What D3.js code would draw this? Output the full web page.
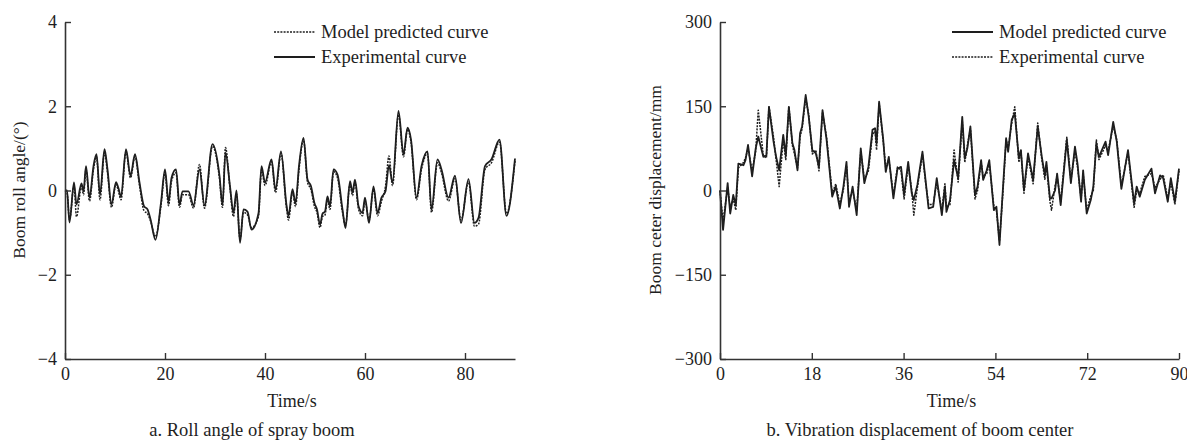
<!DOCTYPE html>
<html>
<head>
<meta charset="utf-8">
<script src="https://cdn.jsdelivr.net/npm/d3@7"></script>
<style>
  body { margin: 0; background: #fff; }
  svg { display: block; font-family: "Liberation Serif", "Times New Roman", serif; }
</style>
</head>
<body>
<svg id="chart" width="1187" height="441"></svg>
<script>
'use strict';

// a. roll angle of spray boom
const rollTime = [
  0, 0.4, 0.9, 1.8, 2.3, 3.3, 3.7, 4.2, 4.9, 5.7,
  6.3, 7.0, 7.9, 8.5, 9.3, 10.2, 10.7, 11.2, 12.2, 13.1,
  14.0, 14.9, 15.8, 16.5, 17.1, 18.1, 19.2, 20.0, 20.7, 21.3,
  22.2, 22.9, 23.5, 24.7, 25.7, 26.9, 27.9, 29.5, 30.9, 31.5,
  32.1, 33.0, 33.7, 34.3, 35.0, 35.7, 36.5, 37.3, 38.7, 39.3,
  40.0, 41.3, 42.1, 43.2, 44.3, 44.7, 45.5, 46.1, 46.8, 47.7,
  48.5, 49.2, 49.9, 50.4, 51.0, 51.5, 52.0, 52.5, 53.0, 53.7,
  54.5, 55.5, 56.1, 57.0, 57.5, 58.0, 58.7, 59.5, 60.0, 60.8,
  61.7, 62.5, 63.3, 64.1, 64.8, 65.5, 66.7, 67.7, 68.5, 69.2,
  70.3, 71.3, 72.5, 73.3, 74.5, 75.3, 76.7, 78.0, 79.2, 80.7,
  81.9, 82.7, 84.0, 85.3, 86.9, 88.3, 90.0
];
const rollExperimental = [
  0, 0, -0.76, 0.19, -0.33, 0.17, -0.02, 0.58, -0.17, 0.58,
  0.86, -0.10, 0.98, 0.50, -0.33, 0.20, 0.05, -0.15, 0.98, 0.35,
  0.86, 0.19, -0.37, -0.45, -0.68, -1.17, -0.29, 0.50, -0.27, 0.30,
  0.50, -0.34, -0.02, -0.02, -0.35, 0.50, -0.35, 1.10, 0.35, -0.34,
  0.90, 0.10, -0.53, 0.00, -1.24, -0.45, -0.50, -0.93, -0.54, 0.58,
  0.19, 0.74, 0.02, 0.93, -0.35, -0.60, 0.03, -0.30, 0.58, 1.25,
  0.26, 0.10, -0.30, -0.45, -0.81, -0.55, -0.50, -0.14, -0.37, 0.50,
  0.38, -0.45, -0.89, 0.22, -0.05, 0.26, -0.37, -0.53, -0.17, -0.77,
  0.10, -0.53, -0.17, -0.02, 0.60, 0.19, 1.89, 0.86, 1.49, 1.21,
  -0.17, 0.58, 0.93, -0.45, 0.74, 0.50, -0.17, 0.35, -0.77, 0.27,
  -0.77, -0.65, 0.58, 0.74, 1.21, -0.60, 0.76
];
const rollModel = [
  0, -0.05, -0.70, 0.10, -0.62, 0.10, -0.10, 0.50, -0.25, 0.50,
  0.80, -0.22, 0.90, 0.42, -0.40, 0.15, -0.02, -0.22, 0.92, 0.30,
  0.80, 0.12, -0.48, -0.55, -0.72, -1.10, -0.35, 0.42, -0.36, 0.22,
  0.42, -0.40, -0.10, -0.10, -0.42, 0.62, -0.42, 1.05, 0.28, -0.40,
  1.02, 0.05, -0.62, -0.08, -1.15, -0.52, -0.58, -0.88, -0.62, 0.50,
  0.12, 0.68, -0.05, 0.88, -0.42, -0.70, -0.05, -0.38, 0.50, 1.20,
  0.20, 0.02, -0.38, -0.52, -0.88, -0.62, -0.58, -0.22, -0.45, 0.45,
  0.30, -0.52, -0.82, 0.15, -0.12, 0.20, -0.44, -0.60, -0.25, -0.70,
  0.02, -0.60, -0.25, 0.10, 0.82, 0.12, 1.80, 0.80, 1.45, 1.15,
  -0.22, 0.50, 0.88, -0.52, 0.66, 0.42, -0.25, 0.28, -0.70, 0.20,
  -0.85, -0.80, 0.50, 0.66, 1.15, -0.55, 0.70
];
const rollXTicks = [0, 20, 40, 60, 80];
const rollYTicks = [-4, -2, 0, 2, 4];

// b. vibration displacement of boom center
const dispTime = [
  0, 0.6, 1.5, 2.0, 2.6, 3.1, 3.6, 4.6, 5.0, 5.5,
  6.3, 7.0, 7.5, 8.5, 9.1, 9.6, 10.5, 11.0, 11.6, 12.4,
  12.9, 13.5, 14.2, 14.6, 15.2, 15.7, 16.1, 16.8, 17.4, 18.1,
  18.8, 19.4, 20.1, 20.9, 22.0, 22.7, 23.5, 24.2, 24.8, 25.3,
  26.0, 26.8, 27.6, 28.3, 29.1, 29.9, 30.4, 30.7, 31.2, 32.0,
  32.5, 33.1, 34.0, 34.8, 35.5, 36.1, 36.9, 37.6, 38.0, 38.7,
  39.7, 40.3, 40.9, 41.8, 42.5, 43.5, 44.1, 44.4, 45.1, 45.9,
  46.7, 47.5, 48.0, 48.5, 49.1, 50.0, 50.5, 51.2, 51.6, 52.3,
  52.8, 53.7, 54.2, 54.8, 55.5, 56.1, 56.5, 57.2, 57.8, 58.6,
  59.0, 59.6, 60.4, 61.4, 62.3, 63.1, 63.7, 64.0, 64.7, 65.0,
  65.7, 66.1, 66.8, 68.0, 68.8, 69.6, 70.1, 70.8, 71.2, 71.9,
  72.7, 73.2, 73.8, 74.3, 75.6, 76.1, 77.1, 77.8, 78.7, 80.0,
  81.2, 81.7, 82.3, 83.3, 84.6, 85.3, 86.3, 86.9, 87.8, 88.4,
  89.2, 90.0
];
const dispModel = [
  0, -70, 13, -41, -8, -26, 48, 45, 54, 81,
  25, 75, 96, 60, 63, 149, 87, 60, 36, 99,
  62, 149, 84, 72, 36, 102, 114, 170, 131, 72,
  66, 42, 143, 90, -11, 7, -32, 7, 51, -29,
  7, -44, 75, 13, 42, 108, 111, 84, 158, 91,
  33, 60, -14, 39, 42, -8, 51, -5, -17, 10,
  69, 19, -32, -29, 22, -44, 7, -38, -17, 54,
  22, 131, 57, 75, 114, -8, 7, 54, 19, 36,
  54, -35, -29, -97, 7, 93, 69, 126, 137, 57,
  72, 0, 66, 19, 114, 60, 27, 51, -14, -14,
  0, 30, -26, 90, 13, 78, 48, -20, 36, -41,
  -17, 7, 84, 60, 87, 63, 122, 87, 3, 72,
  -23, 7, -11, 19, 39, -5, 27, 22, -20, 22,
  -20, 39
];
const dispExperimental = [
  0, -55, 5, -30, -15, -35, 40, 50, 58, 75,
  35, 70, 143, 62, 58, 150, 95, 55, 7, 90,
  55, 150, 80, 65, 40, 95, 110, 165, 135, 65,
  72, 35, 140, 95, -5, 12, -25, 2, 45, -20,
  0, -35, 70, 20, 35, 100, 105, 72, 155, 88,
  40, 55, -8, 42, 35, -15, 45, 0, -44, 5,
  65, 15, -25, -25, 15, -35, 12, -30, -25, 72,
  15, 125, 50, 80, 110, -15, 0, 50, 25, 30,
  48, -28, -35, -90, 0, 90, 75, 120, 149, 50,
  72, -5, 60, 12, 120, 55, 20, 45, -20, -35,
  8, 25, -20, 95, 18, 70, 42, -15, 30, -35,
  -10, 0, 90, 55, 80, 70, 115, 90, 8, 68,
  -30, 0, -5, 25, 30, 5, 20, 28, -15, 15,
  -25, 35
];
const dispXTicks = [0, 18, 36, 54, 72, 90];
const dispYTicks = [-300, -150, 0, 150, 300];

const INK = '#1e1e1e';
const DASH = '2,1.2';

const svg = d3.select('#chart');

function drawPanel(p) {
    let x = d3.scaleLinear().domain([0, 90]).range([p.left, p.right]);
    let y = d3.scaleLinear().domain(p.yDomain).range([359, 22]);

    let g = svg.append('g');

    let line = d3.line()
        .x(function (d) { return x(d[0]); })
        .y(function (d) { return y(d[1]); })
        .curve(p.curve);

    p.series.forEach(function (s) {
        let pts = p.time.map(function (t, i) { return [t, s.values[i]]; });
        g.append('path')
            .attr('d', line(pts))
            .attr('fill', 'none')
            .attr('stroke', INK)
            .attr('stroke-width', s.dashed ? 1.5 : 1.8)
            .attr('stroke-dasharray', s.dashed ? DASH : null)
            .attr('stroke-linejoin', 'round');
    });

    let yAxis = g.append('g')
        .attr('transform', 'translate(' + p.left + ',0)')
        .call(d3.axisLeft(y).tickValues(p.yTicks).tickSizeInner(-6).tickSizeOuter(0).tickPadding(8));
    let xAxis = g.append('g')
        .attr('transform', 'translate(0,359)')
        .call(d3.axisBottom(x).tickValues(p.xTicks).tickSizeInner(-6).tickSizeOuter(0).tickPadding(8));

    [xAxis, yAxis].forEach(function (a) {
        a.select('.domain').attr('stroke', '#333').attr('stroke-width', 1.6);
        a.selectAll('.tick line').attr('stroke', '#333').attr('stroke-width', 1.4);
        a.selectAll('.tick text')
            .attr('fill', INK)
            .style('font-family', '"Liberation Serif", serif')
            .style('font-size', '18px');
    });

    g.append('text')
        .attr('x', (p.left + p.right) / 2 + 2)
        .attr('y', 407)
        .attr('text-anchor', 'middle')
        .attr('fill', INK)
        .style('font-size', '18px')
        .text('Time/s');

    g.append('text')
        .attr('transform', 'translate(' + p.yLabelX + ',190) rotate(-90)')
        .attr('text-anchor', 'middle')
        .attr('dy', '0.35em')
        .attr('fill', INK)
        .style('font-size', '17.5px')
        .text(p.yLabel);

    g.append('text')
        .attr('x', p.captionX)
        .attr('y', 436)
        .attr('text-anchor', 'middle')
        .attr('fill', INK)
        .style('font-size', '18.5px')
        .text(p.caption);

    // legend
    let leg = g.selectAll('.leg').data(p.legend).enter().append('g')
        .attr('transform', function (d, i) { return 'translate(' + p.legendX + ',' + (32 + i * 25) + ')'; });
    leg.append('line')
        .attr('x1', 0).attr('x2', 41)
        .attr('stroke', INK)
        .attr('stroke-width', function (d) { return d.dashed ? 1.5 : 1.8; })
        .attr('stroke-dasharray', function (d) { return d.dashed ? DASH : null; });
    leg.append('text')
        .attr('x', 47)
        .attr('dy', '0.32em')
        .attr('fill', INK)
        .style('font-size', '18.5px')
        .text(function (d) { return d.name; });
}

drawPanel({
    left: 65, right: 515,
    yDomain: [-4, 4],
    time: rollTime,
    xTicks: rollXTicks, yTicks: rollYTicks,
    curve: d3.curveMonotoneX,
    series: [
        { values: rollModel, dashed: true },
        { values: rollExperimental, dashed: false }
    ],
    legend: [
        { name: 'Model predicted curve', dashed: true },
        { name: 'Experimental curve', dashed: false }
    ],
    legendX: 274,
    yLabel: 'Boom roll angle/(°)', yLabelX: 19,
    caption: 'a. Roll angle of spray boom', captionX: 252
});

drawPanel({
    left: 720, right: 1179,
    yDomain: [-300, 300],
    time: dispTime,
    xTicks: dispXTicks, yTicks: dispYTicks,
    curve: d3.curveLinear,
    series: [
        { values: dispExperimental, dashed: true },
        { values: dispModel, dashed: false }
    ],
    legend: [
        { name: 'Model predicted curve', dashed: false },
        { name: 'Experimental curve', dashed: true }
    ],
    legendX: 952,
    yLabel: 'Boom ceter displacement/mm', yLabelX: 655,
    caption: 'b. Vibration displacement of boom center', captionX: 920
});
</script>
</body>
</html>
